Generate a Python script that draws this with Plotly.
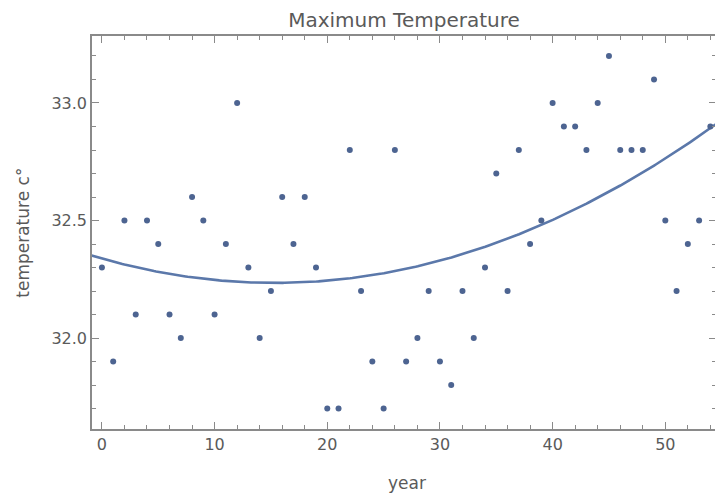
import numpy as np
import plotly.graph_objects as go

years = list(range(55))
max_temp = [32.3, 31.9, 32.5, 32.1, 32.5, 32.4, 32.1, 32.0, 32.6, 32.5,
            32.1, 32.4, 33.0, 32.3, 32.0, 32.2, 32.6, 32.4, 32.6, 32.3,
            31.7, 31.7, 32.8, 32.2, 31.9, 31.7, 32.8, 31.9, 32.0, 32.2,
            31.9, 31.8, 32.2, 32.0, 32.3, 32.7, 32.2, 32.8, 32.4, 32.5,
            33.0, 32.9, 32.9, 32.8, 33.0, 33.2, 32.8, 32.8, 32.8, 33.1,
            32.5, 32.2, 32.4, 32.5, 32.9]
x_ticks = [0, 10, 20, 30, 40, 50]
y_ticks = [32.0, 32.5, 33.0]

# quadratic least-squares fit of the data
coef = np.polyfit(years, max_temp, 2)
fit_x = np.linspace(-1, 55, 300)
fit_y = np.polyval(coef, fit_x)

FONT = "DejaVu Sans, Liberation Sans, Arial"
GRAY = "#5a5a5a"

fig = go.Figure()
fig.add_trace(go.Scatter(x=fit_x, y=fit_y, mode="lines",
                         line=dict(color="#5b78aa", width=2.6),
                         hoverinfo="skip", showlegend=False))
fig.add_trace(go.Scatter(x=years, y=max_temp, mode="markers",
                         marker=dict(color="#4d6491", size=6),
                         showlegend=False))

axis_common = dict(
    showgrid=False, zeroline=False, showline=True, linecolor="#8a8a8a",
    linewidth=1.5, mirror="allticks", ticks="inside", ticklen=7,
    tickwidth=1.3, tickcolor="#8a8a8a",
    tickfont=dict(family=FONT, size=16, color=GRAY),
)

fig.update_xaxes(range=[-0.88, 54.5], tickvals=x_ticks,
                 minor=dict(dtick=2, tick0=0, ticks="inside", ticklen=4,
                            tickcolor="#8a8a8a", tickwidth=1.1),
                 **axis_common)
fig.update_yaxes(range=[31.613, 33.285], tickvals=y_ticks, tickformat=".1f",
                 minor=dict(dtick=0.1, tick0=31.5, ticks="inside", ticklen=4,
                            tickcolor="#8a8a8a", tickwidth=1.1),
                 **axis_common)

W, H = 715, 491
L, R, T, B = 84, 5, 28, 70
PH = H - T - B
PW = W - L - R

fig.update_layout(
    width=W, height=H,
    margin=dict(l=L, r=R, t=T, b=B),
    plot_bgcolor="white", paper_bgcolor="white",
    title=dict(text="Maximum Temperature", x=0.5, xref="paper",
               y=1 - 12 / H, yanchor="middle",
               font=dict(family=FONT, size=20, color=GRAY)),
    annotations=[
        dict(text="year", xref="paper", yref="paper", x=0.505,
             y=-54 / PH, yanchor="middle", showarrow=False,
             font=dict(family=FONT, size=17, color=GRAY)),
        dict(text="temperature c°", xref="paper", yref="paper",
             x=(14 - L) / PW, y=0.5, xanchor="center", yanchor="middle",
             textangle=-90, showarrow=False,
             font=dict(family=FONT, size=17, color=GRAY)),
    ],
)

fig.write_html("out.html")
